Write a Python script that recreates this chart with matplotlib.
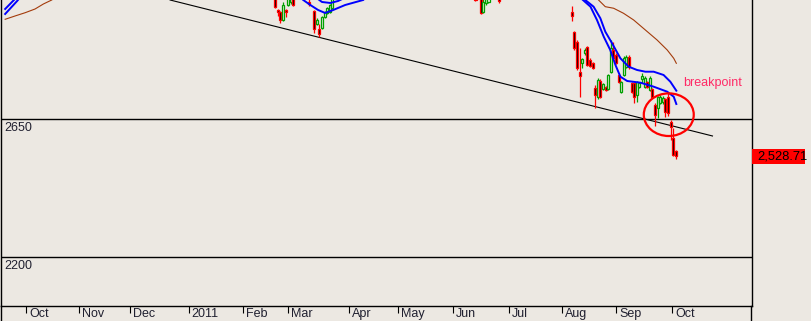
import matplotlib
matplotlib.use('Agg')
import matplotlib.pyplot as plt
import matplotlib.transforms as mtransforms
from matplotlib.patches import Rectangle, Ellipse
from matplotlib.lines import Line2D
import numpy as np

plt.rcParams['font.family'] = ['Liberation Sans', 'DejaVu Sans']

BG = '#ece8e2'

# trading-day index and OHLC of the candles that fall inside the window
days = [105, 106, 107, 108, 109, 110, 111, 112,
        118, 120, 121, 122, 123, 124, 125, 126, 127,
        182, 184, 185, 186, 187, 191,
        219, 220, 221, 222, 223, 224, 225, 226, 227, 228, 229, 230,
        231, 232, 233, 234, 235, 236, 237, 238, 239, 240, 241, 242,
        243, 244, 245, 246, 247, 248, 249, 250, 251, 252, 253, 254,
        255, 256, 257, 258, 259]
opens = [3050, 3007, 2999, 2973, 3007, 3022, 3030, 3050,
         3032, 3002, 2960, 2943, 2947, 2983, 2996, 2999, 3012,
         3045, 3060, 2999, 3028, 3030, 3045,
         3000, 2933, 2902, 2804, 2834, 2865, 2884, 2842, 2832, 2750, 2721, 2774,
         2748, 2754, 2748, 2804, 2875, 2858, 2793, 2739, 2793, 2819, 2852, 2767,
         2767, 2728, 2754, 2780, 2754, 2770, 2745, 2748, 2696, 2686, 2702, 2705,
         2715, 2722, 2640, 2588, 2546]
highs = [3060, 3010, 3002, 3030, 3010, 3050, 3055, 3058,
         3045, 3005, 2978, 2960, 2986, 3002, 3015, 3025, 3050,
         3050, 3065, 3045, 3050, 3055, 3050,
         3018, 2938, 2908, 2880, 2849, 2881, 2888, 2848, 2835, 2761, 2783, 2780,
         2767, 2757, 2797, 2908, 2902, 2865, 2800, 2775, 2855, 2858, 2858, 2770,
         2770, 2774, 2770, 2800, 2790, 2775, 2790, 2750, 2702, 2725, 2728, 2725,
         2720, 2735, 2647, 2620, 2548]
lows = [3012, 2986, 2962, 2970, 2984, 3018, 3025, 3018,
        3018, 2930, 2956, 2917, 2943, 2980, 2993, 2996, 3008,
        3035, 2993, 2996, 3022, 3028, 3029,
        2971, 2875, 2810, 2721, 2815, 2858, 2822, 2820, 2812, 2686, 2715, 2718,
        2745, 2741, 2745, 2800, 2845, 2828, 2768, 2735, 2790, 2815, 2812, 2735,
        2702, 2705, 2750, 2767, 2750, 2750, 2741, 2718, 2627, 2653, 2698, 2700,
        2656, 2660, 2581, 2530, 2520]
closes = [3015, 2998, 2973, 3022, 2998, 3045, 3050, 3022,
          3025, 2943, 2973, 2927, 2983, 2999, 3012, 3022, 3045,
          3037, 2996, 3030, 3045, 3050, 3036,
          2987, 2881, 2815, 2791, 2845, 2875, 2826, 2824, 2815, 2728, 2777, 2722,
          2764, 2745, 2793, 2880, 2848, 2832, 2772, 2772, 2848, 2852, 2819, 2738,
          2722, 2770, 2767, 2790, 2783, 2754, 2783, 2722, 2663, 2722, 2722, 2720,
          2673, 2669, 2624, 2533, 2528.71]

# moving averages (visible pieces, NaN = gap)
nan = np.nan
ma_fast_x = [1.2, 4.2, 5.0, nan, 115.8, 118.5, 121.5, 124.2, 127.3, 131.9, 138.8, nan,
             223.3, 226.2, 228.7, 231.3, 233.8, 235.8, 237.7, 240.3, 245.4, 250.5, 255.7, 258.2, 259.2]
ma_fast_y = [3008.7, 3034.8, 3041.5, nan, 3038, 3021.7, 3005.4, 2995.7, 3005.4, 3021.7, 3038, nan,
             3038, 3016.2, 2972.8, 2918.4, 2875, 2826.1, 2787.9, 2773.9, 2768.4, 2755.3, 2739, 2722.7, 2698.9]
ma_mid_x = [1.2, 5.8, 6.5, nan, 121.5, 123.0, 126.2, 129.2, 130.7, nan,
            224.2, 227.4, 230.0, 231.9, 234.5, 237.7, 240.9, 244.1, 247.3, 250.5, 254.3, 256.9, 259.2]
ma_mid_y = [2992.4, 3034.8, 3042, nan, 3041, 3031.5, 3028.3, 3034.8, 3041, nan,
            3038, 3016.2, 2978.4, 2934.7, 2896.9, 2847.9, 2820.5, 2809.8, 2804.2, 2804.2, 2793.5, 2771.6, 2742.3]
ma_slow_x = [1.2, 5.0, 8.9, 12.7, 15.9, 19.1, nan,
             229.3, 231.9, 235.1, 238.9, 242.8, 247.3, 251.8, 255.7, 258.2, 259.2]
ma_slow_y = [2975.1, 2985.9, 2996.6, 3008.7, 3025, 3038, nan,
             3038, 3016.2, 3011.1, 2994.7, 2972.8, 2940.2, 2907.6, 2875, 2847.9, 2831.6]

# trend line and price levels
trend_x = [64.6, 273.1]
trend_y = [3038, 2594.6]
levels = [2650, 2200]

# month ticks
month_pos = [9.2, 29.7, 49.2, 71.7, 92.6, 110.1, 133.2, 152.4, 173.4, 194.7, 215.3, 236.2, 257.6]
month_labels = ['Oct', 'Nov', 'Dec', '2011', 'Feb', 'Mar', 'Apr', 'May', 'Jun', 'Jul', 'Aug', 'Sep', 'Oct']

fig = plt.figure(figsize=(8.12, 3.21), dpi=100, facecolor=BG)
ax = fig.add_axes([1 / 812, 15 / 321, 750.5 / 812, 306 / 321])
ax.set_facecolor(BG)
ax.set_xlim(-0.4, 288.1)
ax.set_ylim(2040.2, 3038)

for lv in levels:
    ax.axhline(lv, color='black', lw=1.0, zorder=1)
    ax.annotate(str(lv), xy=(0.005, lv), xycoords=ax.get_yaxis_transform(),
                xytext=(0, -2), textcoords='offset points', va='top', ha='left',
                fontsize=9, color='#202030')

ax.plot(trend_x, trend_y, color='black', lw=0.8, zorder=2)

w = 0.8
for d, o, h, l, c in zip(days, opens, highs, lows, closes):
    bear = c < o
    col = '#ff0000' if bear else '#00a000'
    ax.vlines(d, l, h, color=col, lw=0.9, zorder=3)
    ax.add_patch(Rectangle((d - w / 2, min(o, c)), w, max(abs(c - o), 1.5),
                           facecolor='black' if bear else BG, edgecolor=col,
                           lw=0.9, zorder=4))

ax.plot(ma_fast_x, ma_fast_y, color='#0000ff', lw=1.4, zorder=5)
ax.plot(ma_mid_x, ma_mid_y, color='#0000ff', lw=1.4, zorder=5)
ax.plot(ma_slow_x, ma_slow_y, color='#a33b0b', lw=0.8, zorder=5)

ax.add_patch(Ellipse((256.3, 2664), 19.2, 139, fill=False, edgecolor='#ff0000', lw=1.6, zorder=6))
ax.text(261.8, 2757, 'breakpoint', color='#ff2a66', fontsize=9, va='baseline', ha='left')

# last price tag in the right margin
yt = ax.get_yaxis_transform()
ax.add_patch(Rectangle((1.0013, closes[-1] - 24.5), 0.0706, 49, transform=yt,
                       facecolor='#ff0000', edgecolor='none', clip_on=False, zorder=6))
ax.text(1.0075, closes[-1], '{:,.2f}'.format(closes[-1]), transform=yt,
        va='center', ha='left', fontsize=9.3, color='black', clip_on=False, zorder=7)

ax.set_yticks([])
ax.spines['top'].set_visible(False)
for s in ['left', 'right', 'bottom']:
    ax.spines[s].set_linewidth(1.0)
ax.set_xticks(month_pos)
ax.set_xticklabels(month_labels, ha='left', fontsize=9, color='#202030')
ax.tick_params(axis='x', direction='out', length=5, width=0.8, pad=-3.5)
off = mtransforms.ScaledTranslation(3 / 100, 0, fig.dpi_scale_trans)
for lab in ax.get_xticklabels():
    lab.set_transform(lab.get_transform() + off)

for xf in [1 / 812, 751.5 / 812]:
    fig.add_artist(Line2D([xf, xf], [0, 15 / 321], transform=fig.transFigure, color='black', lw=1.0))

fig.savefig('out.png', dpi=100, facecolor=BG)
